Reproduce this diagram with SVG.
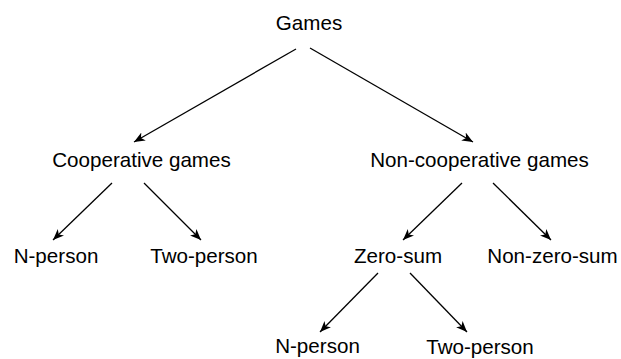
<svg xmlns="http://www.w3.org/2000/svg" width="621" height="359" viewBox="0 0 621 359">
<defs>
<style>
text{font-family:"Liberation Sans",Arial,sans-serif;font-size:20.6px;fill:#000;text-anchor:middle}
.c line{stroke:#000;stroke-width:1.3;fill:none;marker-end:url(#ah)}
</style>
<marker id="ah" markerUnits="userSpaceOnUse" markerWidth="12" markerHeight="10" viewBox="0 0 12 10" refX="11" refY="5" orient="auto">
<path d="M0,0.5 L11,5 L0,9.5 L3,5 Z" fill="#000"/>
</marker>
</defs>
<rect width="621" height="359" fill="#fff"/>
<g class="c" id="connectors">
<line x1="296" y1="49" x2="134" y2="142"/>
<line x1="310" y1="48" x2="473" y2="142"/>
<line x1="112" y1="183" x2="53" y2="240"/>
<line x1="144" y1="183" x2="201" y2="240"/>
<line x1="462" y1="183" x2="403" y2="240"/>
<line x1="493" y1="183" x2="551" y2="240"/>
<line x1="378" y1="273" x2="320" y2="332"/>
<line x1="410" y1="273" x2="467" y2="332"/>
</g>
<g id="games"><text x="309" y="30">Games</text></g>
<g id="coop"><text x="141.5" y="167">Cooperative games</text></g>
<g id="noncoop"><text x="479.5" y="167">Non-cooperative games</text></g>
<g id="coop-n"><text x="56" y="263">N-person</text></g>
<g id="coop-two"><text x="204" y="263">Two-person</text></g>
<g id="zerosum"><text x="398" y="263">Zero-sum</text></g>
<g id="nonzerosum"><text x="552.5" y="263">Non-zero-sum</text></g>
<g id="zs-n"><text x="317.5" y="352.5">N-person</text></g>
<g id="zs-two"><text x="480" y="354">Two-person</text></g>
</svg>
